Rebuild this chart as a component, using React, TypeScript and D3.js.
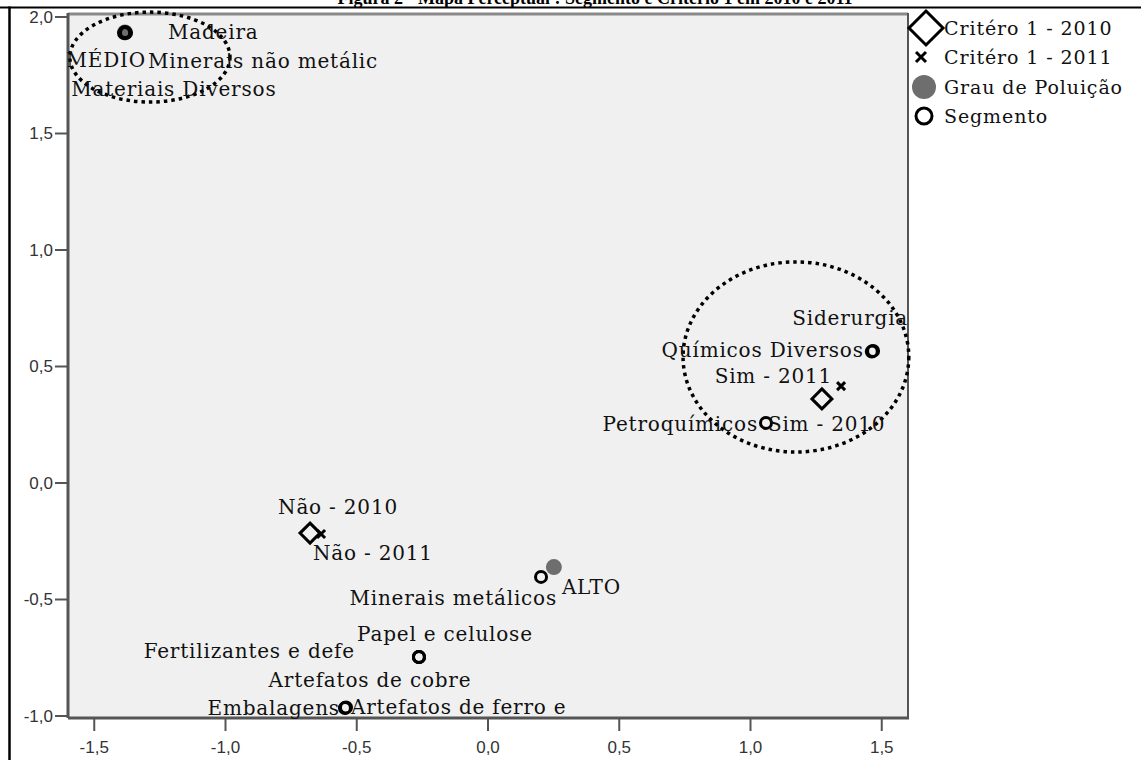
import React from 'react';
import * as d3 from 'd3';

// Segmento (open circles)
const segmentNames = [
  'Madeira', 'Minerais não metálic', 'Materiais Diversos',
  'Siderurgia', 'Químicos Diversos', 'Petroquímicos',
  'Minerais metálicos', 'Papel e celulose', 'Fertilizantes e defe',
  'Artefatos de cobre', 'Embalagens', 'Artefatos de ferro e',
];
const segmentX = [-1.383, -1.379, -1.386, 1.467, 1.462, 1.059, 0.202, -0.263, -0.263, -0.263, -0.545, -0.541];
const segmentY = [1.936, 1.932, 1.931, 0.567, 0.564, 0.258, -0.403, -0.747, -0.747, -0.747, -0.966, -0.963];

// Critério 1 - 2010 (diamonds)
const crit2010Names = ['Sim - 2010', 'Não - 2010'];
const crit2010X = [1.272, -0.678];
const crit2010Y = [0.361, -0.215];

// Critério 1 - 2011 (crosses)
const crit2011Names = ['Sim - 2011', 'Não - 2011'];
const crit2011X = [1.345, -0.636];
const crit2011Y = [0.416, -0.219];

// Grau de Poluição (grey dots)
const grauNames = ['MÉDIO', 'ALTO'];
const grauX = [-1.383, 0.251];
const grauY = [1.934, -0.361];

const xTicks = [-1.5, -1.0, -0.5, 0.0, 0.5, 1.0, 1.5];
const yTicks = [-1.0, -0.5, 0.0, 0.5, 1.0, 1.5, 2.0];

const legendItems = ['Critéro 1 - 2010', 'Critéro 1 - 2011', 'Grau de Poluição', 'Segmento'];

// label placement around each point: [anchor, dx, dy] in px
const labelPlace: Record<string, [string, number, number]> = {
  'Madeira': ['start', 43, 0],
  'Minerais não metálic': ['start', 22, 28],
  'Materiais Diversos': ['start', -53, 56],
  'MÉDIO': ['end', 21, 28],
  'Siderurgia': ['end', 35, -33],
  'Químicos Diversos': ['end', -8, -2],
  'Sim - 2011': ['end', -9, -10],
  'Sim - 2010': ['start', -54, 25],
  'Petroquímicos': ['end', -8, 1],
  'Não - 2010': ['middle', 28, -26],
  'Não - 2011': ['start', -8, 19],
  'Minerais metálicos': ['end', 16, 21],
  'ALTO': ['start', 8, 20],
  'Papel e celulose': ['middle', 26, -23],
  'Fertilizantes e defe': ['end', -64, -6],
  'Artefatos de cobre': ['middle', -49, 23],
  'Embalagens': ['end', -5, 0],
  'Artefatos de ferro e': ['start', 5, 0],
};

const W = 1141;
const H = 760;
const plot = { left: 68, right: 908, top: 13, bottom: 718 };
const SERIF = "'DejaVu Serif', serif";
const SANS = "'Liberation Sans', Arial, sans-serif";
const fmt = (v: number) => d3.format('.1f')(v).replace('.', ',').replace('−', '-');

export default function App() {
  const x = d3.scaleLinear().domain([-1.6, 1.6]).range([plot.left, plot.right]);
  const y = d3.scaleLinear().domain([-1.0, 2.0]).range([716, 17]);

  const diamond = (r: number) => `M0,${-r}L${r},0L0,${r}L${-r},0Z`;
  const cross = (r: number) => `M${-r},${-r}L${r},${r}M${r},${-r}L${-r},${r}`;

  const label = (name: string, px: number, py: number) => {
    const [anchor, dx, dy] = labelPlace[name] || ['start', 8, 0];
    return (
      <text key={'l-' + name} x={px + dx} y={py + dy} textAnchor={anchor} dominantBaseline="central"
        fontFamily={SERIF} fontSize={20} letterSpacing={0.8} fill="#111">{name}</text>
    );
  };

  // dotted annotation ellipses, in data units
  const ellipses = [
    { cx: -1.288, cy: 1.828, rx: 0.305, ry: 0.193 },
    { cx: 1.173, cy: 0.541, rx: 0.43, ry: 0.408 },
  ];

  return (
    <svg width={W} height={H} style={{ position: 'absolute', left: 0, top: 0, background: '#fff' }}>
      {/* title, cut at the top */}
      <text x={595} y={4} textAnchor="middle" fontFamily="'Liberation Serif', serif" fontWeight="bold" fontSize={18}>
        Figura 2 - Mapa Perceptual : Segmento e Critério 1 em 2010 e 2011
      </text>
      <line x1={0} x2={W} y1={7.5} y2={7.5} stroke="#000" strokeWidth={2} />
      <line x1={9.5} x2={9.5} y1={6.5} y2={H} stroke="#000" strokeWidth={2.5} />

      {/* plot area */}
      <rect x={plot.left} y={plot.top} width={plot.right - plot.left} height={plot.bottom - plot.top} fill="#f0f0f0" />
      <line x1={plot.left} x2={plot.right} y1={plot.top + 1} y2={plot.top + 1} stroke="#8a8a8a" strokeWidth={3} />
      <line x1={plot.right} x2={plot.right} y1={plot.top} y2={plot.bottom} stroke="#555" strokeWidth={2} />
      <line x1={plot.left} x2={plot.left} y1={plot.top} y2={plot.bottom} stroke="#555" strokeWidth={3} />
      <line x1={plot.left} x2={plot.right + 1} y1={plot.bottom} y2={plot.bottom} stroke="#555" strokeWidth={3} />

      {/* axes */}
      {yTicks.map(t => (
        <g key={'yt' + t}>
          <line x1={55} x2={plot.left} y1={y(t)} y2={y(t)} stroke="#555" strokeWidth={2} />
          <text x={53} y={y(t)} dy="0.35em" textAnchor="end" fontFamily={SANS} fontSize={17} fill="#333">{fmt(t)}</text>
        </g>
      ))}
      {xTicks.map(t => (
        <g key={'xt' + t}>
          <line x1={x(t)} x2={x(t)} y1={plot.bottom} y2={plot.bottom + 13} stroke="#555" strokeWidth={2} />
          <text x={x(t)} y={753} textAnchor="middle" fontFamily={SANS} fontSize={17} fill="#333">{fmt(t)}</text>
        </g>
      ))}

      {/* ellipses */}
      {ellipses.map((e, i) => (
        <ellipse key={'e' + i} cx={x(e.cx)} cy={y(e.cy)} rx={x(e.cx + e.rx) - x(e.cx)} ry={y(e.cy) - y(e.cy + e.ry)}
          fill="none" stroke="#000" strokeWidth={3.5} strokeDasharray="3.5 4" />
      ))}

      {/* Grau de Poluição */}
      {grauNames.map((n, i) => (
        <circle key={'g' + n} cx={x(grauX[i])} cy={y(grauY[i])} r={8} fill="#6e6e6e" />
      ))}
      {/* Segmento */}
      {segmentNames.map((n, i) => (
        <circle key={'s' + n} cx={x(segmentX[i])} cy={y(segmentY[i])} r={5.5} fill="none" stroke="#000" strokeWidth={3} />
      ))}
      {/* Critério 2010 */}
      {crit2010Names.map((n, i) => (
        <path key={'d' + n} d={diamond(10)} transform={`translate(${x(crit2010X[i])},${y(crit2010Y[i])})`}
          fill="none" stroke="#000" strokeWidth={3} />
      ))}
      {/* Critério 2011 */}
      {crit2011Names.map((n, i) => (
        <path key={'c' + n} d={cross(4)} transform={`translate(${x(crit2011X[i])},${y(crit2011Y[i])})`}
          fill="none" stroke="#000" strokeWidth={3} />
      ))}

      {/* labels */}
      {segmentNames.map((n, i) => label(n, x(segmentX[i]), y(segmentY[i])))}
      {crit2010Names.map((n, i) => label(n, x(crit2010X[i]), y(crit2010Y[i])))}
      {crit2011Names.map((n, i) => label(n, x(crit2011X[i]), y(crit2011Y[i])))}
      {grauNames.map((n, i) => label(n, x(grauX[i]), y(grauY[i])))}

      {/* legend */}
      <g>
        <path d={diamond(17)} transform="translate(926,28)" fill="#fff" stroke="#000" strokeWidth={3} />
        <path d={cross(5)} transform="translate(921,57)" fill="none" stroke="#000" strokeWidth={3} />
        <circle cx={924} cy={87} r={12} fill="#6e6e6e" />
        <circle cx={924} cy={116} r={8} fill="#fff" stroke="#000" strokeWidth={3} />
        {legendItems.map((t, i) => (
          <text key={t} x={944} y={[28, 57, 87, 116][i]} dominantBaseline="central"
            fontFamily={SERIF} fontSize={19} letterSpacing={0.9} fill="#111">{t}</text>
        ))}
      </g>
    </svg>
  );
}
